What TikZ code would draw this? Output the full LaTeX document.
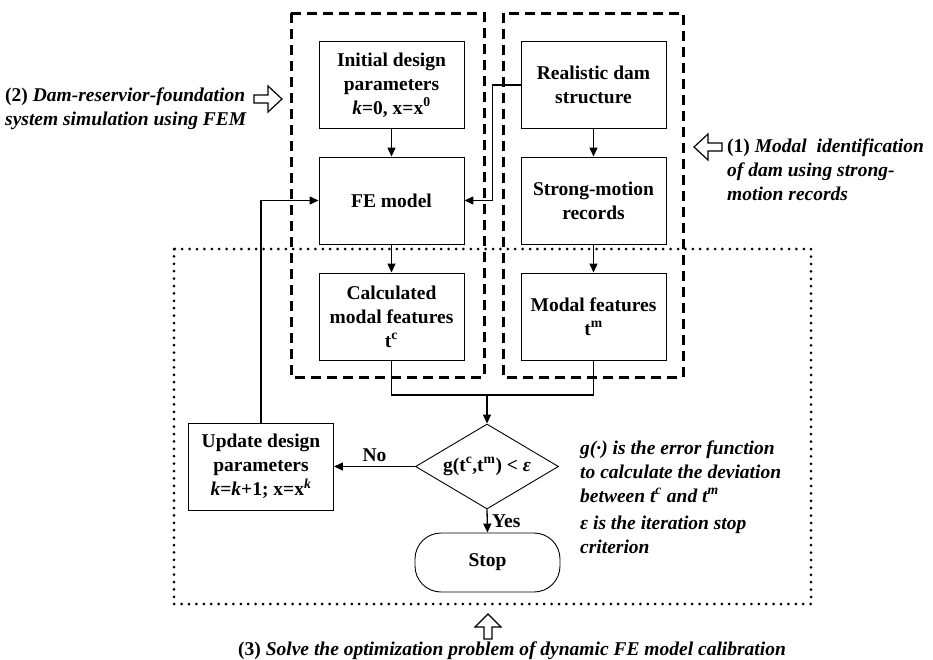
\documentclass[tikz,border=0pt]{standalone}
\usepackage{fontspec}
\setmainfont{Liberation Serif}
\usetikzlibrary{arrows.meta,shapes.geometric}
\begin{document}
\begin{tikzpicture}[x=1pt,y=-1pt,
  box/.style={draw, line width=0.9pt, minimum width=145pt, minimum height=87pt, inner sep=0pt, align=center, font=\fontsize{19.5}{24}\selectfont\bfseries},
  conn/.style={line width=1.3pt, -{Triangle[length=9pt,width=8pt]}},
  plain/.style={line width=1.3pt},
  groupbox/.style={line width=3pt, dash pattern=on 10pt off 6pt},
  dotbox/.style={line width=3pt, dash pattern=on 0pt off 7.4pt, line cap=round},
  hollow/.style={line width=1.2pt, draw, fill=white, line join=miter},
  note/.style={align=left, anchor=west, inner sep=0pt, font=\fontsize{19.5}{24}\selectfont\bfseries\itshape}
]
\useasboundingbox (0,0) rectangle (933,659);
% group frames
\draw[groupbox] (291,13) rectangle (484,377);
\draw[groupbox] (503,13) rectangle (683,377);
\draw[dotbox] (174,249) rectangle (811,604);
% nodes
\node[box] (init) at (391.5,85) {Initial design\\parameters\\\textit{k}=0, x=x\textsuperscript{0}};
\node[box] (fe) at (391.5,200.5) {FE model};
\node[box] (calc) at (391.5,316.5) {Calculated\\modal features\\t\textsuperscript{c}};
\node[box] (real) at (593.5,85) {Realistic dam\\structure};
\node[box] (strong) at (593.5,200.5) {Strong-motion\\records};
\node[box] (modal) at (593.5,316.5) {Modal features\\t\textsuperscript{m}};
\node[box] (update) at (261,466.5) {Update design\\parameters\\\textit{k}=\textit{k}+1; x=x\textsuperscript{\textit{k}}};
\node[draw, line width=0.9pt, diamond, aspect=1.68, minimum width=143pt, minimum height=85pt, inner sep=0pt, font=\fontsize{19.5}{24}\selectfont\bfseries] (dec) at (487,466.5) {g(t\textsuperscript{c},t\textsuperscript{m}) < \textit{ε}};
\node[draw, line width=0.9pt, rounded corners=26pt, minimum width=145pt, minimum height=59pt, inner sep=0pt, font=\fontsize{19.5}{24}\selectfont\bfseries] (stop) at (487.5,562.5) {Stop};
\coordinate (join) at (487,395);
% connectors
\draw[conn] (init) -- (fe);
\draw[conn] (fe) -- (calc);
\draw[conn] (real) -- (strong);
\draw[conn] (strong) -- (modal);
\draw[conn] (real.west) -- ++(-28,0) |- (fe.east);
\draw[plain] (calc.south) |- (join);
\draw[plain] (modal.south) |- (join);
\draw[conn] (join) -- (dec.north);
\draw[conn] (dec.west) -- node[above, font=\fontsize{19.5}{24}\selectfont\bfseries, yshift=1pt] {No} (update.east);
\draw[conn] (dec.south) -- node[right, font=\fontsize{19.5}{24}\selectfont\bfseries, xshift=1pt] {Yes} (stop.north);
\draw[conn] (update.north) |- (fe.west);
% hollow arrows
\draw[hollow] (254,95) -- (268,95) -- (268,86) -- (282,99) -- (268,112) -- (268,103) -- (254,103) -- cycle;
\draw[hollow] (722,143) -- (708,143) -- (708,134) -- (694,147) -- (708,160) -- (708,151) -- (722,151) -- cycle;
\draw[hollow] (484,639) -- (484,627) -- (475,627) -- (488,614) -- (501,627) -- (492,627) -- (492,639) -- cycle;
% annotations
\node[note] (t2) at (5,109) {\textup{(2)} Dam-reservior-foundation\\system simulation using FEM};
\node[note] (t1) at (727,170) {\textup{(1)} Modal\ \ identification\\of dam using strong-\\motion records};
\node[note] (tg) at (580,497) {g(·) is the error function\\to calculate the deviation\\between t\textsuperscript{c} and t\textsuperscript{m}\\[3pt]ε is the iteration stop\\criterion};
\node[note, anchor=center] (t3) at (512,651) {\textup{(3)} Solve the optimization problem of dynamic FE model calibration};
\end{tikzpicture}
\end{document}
